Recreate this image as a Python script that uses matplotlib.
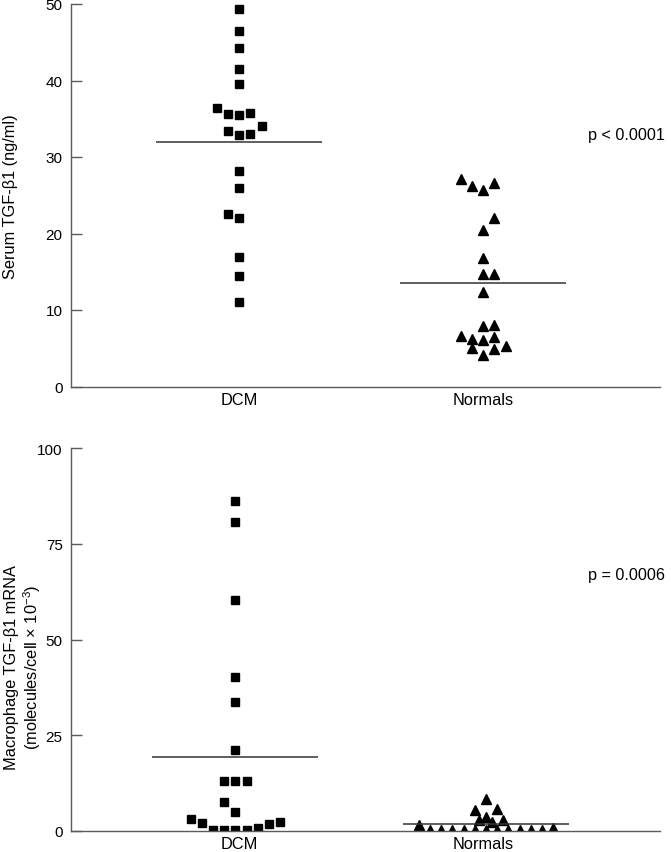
import numpy as np
import matplotlib
matplotlib.use('Agg')
import matplotlib.pyplot as plt

plt.rcParams['font.family'] = ['Liberation Sans', 'DejaVu Sans']
plt.rcParams['mathtext.fontset'] = 'custom'
plt.rcParams['mathtext.rm'] = 'Liberation Sans'
plt.rcParams['mathtext.it'] = 'Liberation Sans'

# groupes
groups = ['DCM', 'Normals']

# panneau du haut: TGF-b1 serique (ng/ml)
serum_dcm = [49.3, 46.5, 44.3, 41.5, 39.6, 36.4, 35.6, 35.5, 35.7, 34.1,
             33.4, 32.9, 33.0, 28.2, 26.0, 22.5, 22.0, 16.9, 14.4, 11.0]
serum_norm = [27.1, 26.2, 25.7, 26.6, 22.0, 20.5, 16.8, 14.7, 14.7, 12.3,
              7.9, 8.1, 6.6, 6.2, 6.1, 6.5, 5.0, 4.9, 5.3, 4.1]
serum_means = [32.0, 13.5]

# panneau du bas: ARNm macrophage (molecules/cell x 10^-3)
mrna_dcm = [86.3, 80.6, 60.3, 40.3, 33.6, 21.2, 13.1, 13.1, 13.1, 7.4,
            4.9, 3.1, 2.0, 0.3, 0.3, 0.3, 0.3, 0.6, 1.7, 2.4]
mrna_norm = [8.3, 5.5, 5.7, 3.5, 2.8, 2.2, 2.8, 1.5, 0.3, 0.3,
             0.3, 0.3, 0.3, 0.3, 0.3, 0.3, 0.3, 0.3, 0.3, 0.7]
mrna_means = [19.2, 1.75]

# decalages horizontaux (en "places") pour eviter le chevauchement
off_serum_dcm = [0, 0, 0, 0, 0, -2, -1, 0, 1, 2, -1, 0, 1, 0, 0, -1, 0, 0, 0, 0]
off_serum_norm = [-2, -1, 0, 1, 1, 0, 0, 0, 1, 0, 0, 1, -2, -1, 0, 1, -1, 1, 2, 0]
off_mrna_dcm = [0, 0, 0, 0, 0, 0, -1, 0, 1, -1, 0, -4, -3, -2, -1, 0, 1, 2, 3, 4]
off_mrna_norm = [0, -1, 1, 0, -0.6, 0.5, 1.5, -6, -5, -4, -3, -2, -1, 0, 1, 2, 3, 4, 5, 6]

fig = plt.figure(figsize=(6.71, 8.53), dpi=100, facecolor='w')
ax1 = fig.add_axes([71 / 671, 1 - 387.5 / 853, 589 / 671, (387.5 - 5) / 853])
ax2 = fig.add_axes([71 / 671, 1 - 831.7 / 853, 589 / 671, (831.7 - 449.3) / 853])

slot = 0.046
spine_col = '#5a5a5a'
fs = 11.8


def panel(ax, dcm, norm, means, od, on, centres, ylim, yticks, ylabel, lab_xy,
          ptext, pty):
    ax.plot(centres[0] + np.array(od) * slot, dcm, 's', color='k', ms=6.2, ls='none')
    ax.plot(centres[1] + np.array(on) * slot, norm, '^', color='k', ms=7, ls='none')
    for c, m in zip(centres, means):
        ax.hlines(m, c - 0.34, c + 0.34, color='#333333', lw=1.1)
    ax.set_xlim(0.311, 2.725)
    ax.set_ylim(*ylim)
    ax.set_yticks(yticks)
    ax.set_xticks([1, 2])
    ax.set_xticklabels(groups, fontsize=fs)
    ax.tick_params(axis='x', length=0, pad=4)
    ax.tick_params(axis='y', direction='in', length=8, width=1, color=spine_col,
                   labelsize=11, pad=6)
    for s in ['top', 'right']:
        ax.spines[s].set_visible(False)
    for s in ['left', 'bottom']:
        ax.spines[s].set_color(spine_col)
        ax.spines[s].set_linewidth(1)
    ax.set_ylabel(ylabel, fontsize=fs, linespacing=1.15)
    ax.yaxis.set_label_coords(*lab_xy)
    ax.text(1.0085, pty, ptext, ha='right', va='center', fontsize=11.6,
            transform=ax.get_yaxis_transform())
    ax.patch.set_alpha(0)


panel(ax1, serum_dcm, serum_norm, serum_means, off_serum_dcm, off_serum_norm,
      [1.0, 2.0], (0, 50), [0, 10, 20, 30, 40, 50], 'Serum TGF-\u03b21 (ng/ml)',
      (-0.09, 0.5), 'p < 0.0001', 33.0)
panel(ax2, mrna_dcm, mrna_norm, mrna_means, off_mrna_dcm, off_mrna_norm,
      [0.985, 2.012], (0, 100), [0, 25, 50, 75, 100],
      'Macrophage TGF-\u03b21 mRNA\n(molecules/cell \u00d7 10$^{-3}$)',
      (-0.048, 0.43), 'p = 0.0006', 67.0)

fig.savefig('out.png', dpi=100)
